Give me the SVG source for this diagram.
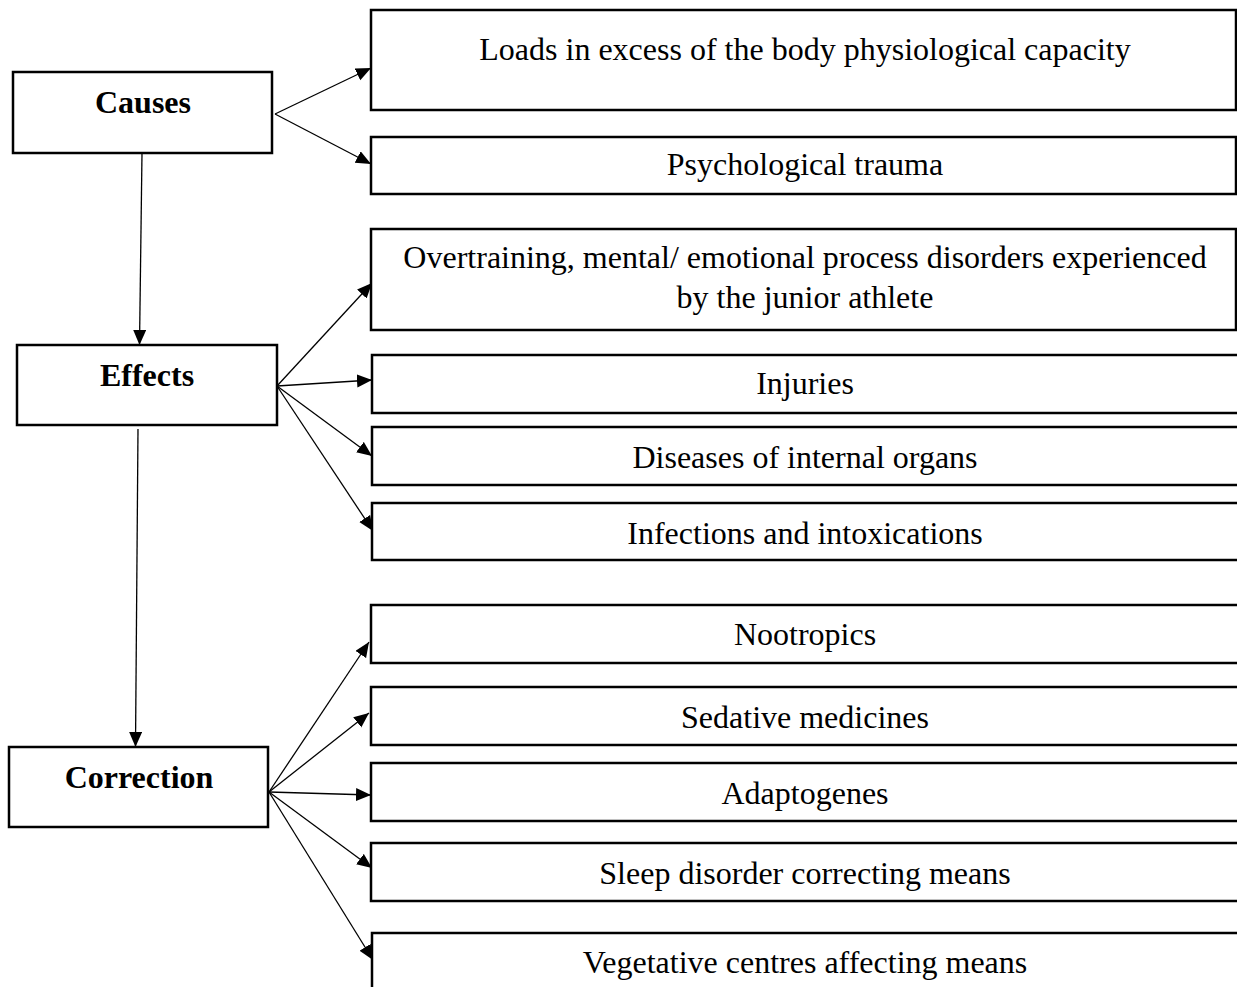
<svg xmlns="http://www.w3.org/2000/svg" width="1237" height="987" viewBox="0 0 1237 987">
<defs>
<style>
.box{fill:#fff;stroke:#000;stroke-width:2.5}
.t{font-family:"Liberation Serif","Times New Roman",serif;font-size:32px;fill:#000;text-anchor:middle}
.b{font-weight:bold}
.c{stroke:#000;stroke-width:1.3;fill:none}
</style>
<marker id="ah" markerUnits="userSpaceOnUse" markerWidth="16" markerHeight="14" refX="15" refY="6.5" orient="auto">
<path d="M0,0 L15,6.5 L0,13 Z" fill="#000"/>
</marker>
</defs>
<rect width="1237" height="987" fill="#fff"/>
<g id="connectors">
<line class="c" x1="275" y1="114" x2="371" y2="68" marker-end="url(#ah)"/>
<line class="c" x1="275" y1="114" x2="371" y2="164" marker-end="url(#ah)"/>
<line class="c" x1="142" y1="153" x2="139.5" y2="345" marker-end="url(#ah)"/>
<line class="c" x1="277" y1="386" x2="372" y2="283" marker-end="url(#ah)"/>
<line class="c" x1="277" y1="386" x2="372" y2="380" marker-end="url(#ah)"/>
<line class="c" x1="277" y1="386" x2="372" y2="456" marker-end="url(#ah)"/>
<line class="c" x1="277" y1="386" x2="373" y2="531" marker-end="url(#ah)"/>
<line class="c" x1="138" y1="429" x2="135.5" y2="747" marker-end="url(#ah)"/>
<line class="c" x1="269" y1="792" x2="369" y2="642" marker-end="url(#ah)"/>
<line class="c" x1="269" y1="792" x2="369" y2="713" marker-end="url(#ah)"/>
<line class="c" x1="269" y1="792" x2="371" y2="795" marker-end="url(#ah)"/>
<line class="c" x1="269" y1="792" x2="372" y2="868" marker-end="url(#ah)"/>
<line class="c" x1="269" y1="792" x2="373" y2="960" marker-end="url(#ah)"/>
</g>
<g id="causes"><rect class="box" x="13" y="72" width="259" height="81"/><text class="t b" x="143" y="113">Causes</text></g>
<g id="effects"><rect class="box" x="17" y="345" width="260" height="80"/><text class="t b" x="147" y="386">Effects</text></g>
<g id="correction"><rect class="box" x="9" y="747" width="259" height="80"/><text class="t b" x="139" y="788">Correction</text></g>
<g id="loads"><rect class="box" x="371" y="10" width="865" height="100"/><text class="t" x="805" y="60">Loads in excess of the body physiological capacity</text></g>
<g id="trauma"><rect class="box" x="371" y="137" width="865" height="57"/><text class="t" x="805" y="175">Psychological trauma</text></g>
<g id="overtraining"><rect class="box" x="371" y="229" width="865" height="101"/><text class="t" x="805" y="268">Overtraining, mental/ emotional process disorders experienced</text><text class="t" x="805" y="308">by the junior athlete</text></g>
<g id="injuries"><rect class="box" x="372" y="355" width="880" height="58"/><text class="t" x="805" y="394">Injuries</text></g>
<g id="diseases"><rect class="box" x="372" y="427" width="880" height="58"/><text class="t" x="805" y="468">Diseases of internal organs</text></g>
<g id="infections"><rect class="box" x="372" y="503" width="880" height="57"/><text class="t" x="805" y="544">Infections and intoxications</text></g>
<g id="nootropics"><rect class="box" x="371" y="605" width="880" height="58"/><text class="t" x="805" y="645">Nootropics</text></g>
<g id="sedative"><rect class="box" x="371" y="687" width="880" height="58"/><text class="t" x="805" y="728">Sedative medicines</text></g>
<g id="adaptogenes"><rect class="box" x="371" y="763" width="880" height="58"/><text class="t" x="805" y="804">Adaptogenes</text></g>
<g id="sleep"><rect class="box" x="371" y="843" width="880" height="58"/><text class="t" x="805" y="884">Sleep disorder correcting means</text></g>
<g id="vegetative"><rect class="box" x="372" y="933" width="880" height="80"/><text class="t" x="805" y="973">Vegetative centres affecting means</text></g>
</svg>
